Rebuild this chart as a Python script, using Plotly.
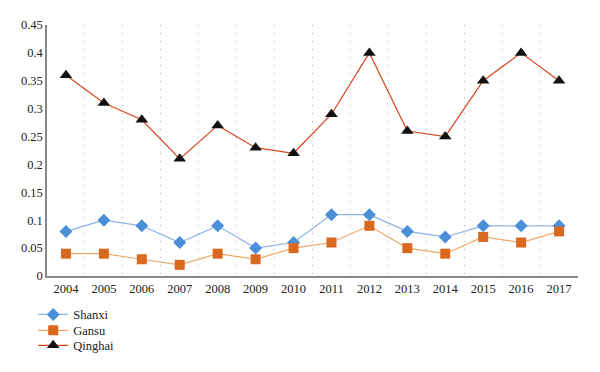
import plotly.graph_objects as go

years = ["2004","2005","2006","2007","2008","2009","2010","2011","2012","2013","2014","2015","2016","2017"]
shanxi = [0.08,0.10,0.09,0.06,0.09,0.05,0.06,0.11,0.11,0.08,0.07,0.09,0.09,0.09]
gansu = [0.04,0.04,0.03,0.02,0.04,0.03,0.05,0.06,0.09,0.05,0.04,0.07,0.06,0.08]
qinghai = [0.36,0.31,0.28,0.21,0.27,0.23,0.22,0.29,0.40,0.26,0.25,0.35,0.40,0.35]
yticks = [0,0.05,0.1,0.15,0.2,0.25,0.3,0.35,0.4,0.45]
ylabels = ["0","0.05","0.1","0.15","0.2","0.25","0.3","0.35","0.4","0.45"]

FONT = "Liberation Serif, Times New Roman, serif"

fig = go.Figure()
fig.add_trace(go.Scatter(x=years, y=shanxi, name="Shanxi", mode="lines+markers",
    line=dict(color="#8db3e2", width=1.2), legend="legend",
    marker=dict(symbol="diamond", size=10, color="#4a8fd8")))
fig.add_trace(go.Scatter(x=years, y=gansu, name="Gansu", mode="lines+markers",
    line=dict(color="#eda868", width=1.2), legend="legend2",
    marker=dict(symbol="square", size=10, color="#d9691e")))
fig.add_trace(go.Scatter(x=years, y=qinghai, name="Qinghai", mode="lines+markers",
    line=dict(color="#d8451e", width=1.2), legend="legend3",
    marker=dict(symbol="triangle-up", size=11, color="#111111")))

def leg(y):
    return dict(x=-0.026, y=y, xanchor="left", yanchor="top", orientation="v",
                font=dict(family=FONT, size=12.5, color="#222222"),
                bgcolor="rgba(0,0,0,0)", itemwidth=30)

fig.update_layout(
    width=600, height=372,
    margin=dict(l=39, r=30, t=17, b=104, autoexpand=False),
    paper_bgcolor="white", plot_bgcolor="white",
    font=dict(family=FONT, size=12.5, color="#222222"),
    showlegend=True,
    legend=leg(-0.095), legend2=leg(-0.158), legend3=leg(-0.218),
    xaxis=dict(type="category", tickson="boundaries", showgrid=True,
               gridcolor="#aaaaaa", griddash="1px,7px", gridwidth=1,
               showline=True, linecolor="#888888", linewidth=1.5,
               ticks="", range=[-0.5, 13.5], tickfont=dict(family=FONT, size=12.5)),
    yaxis=dict(range=[0, 0.45], tickvals=yticks, ticktext=ylabels,
               showgrid=False, zeroline=False, tickfont=dict(family=FONT, size=12.5),
               showline=True, linecolor="#888888", linewidth=1.5, ticks=""),
)
fig.write_html("out.html")
